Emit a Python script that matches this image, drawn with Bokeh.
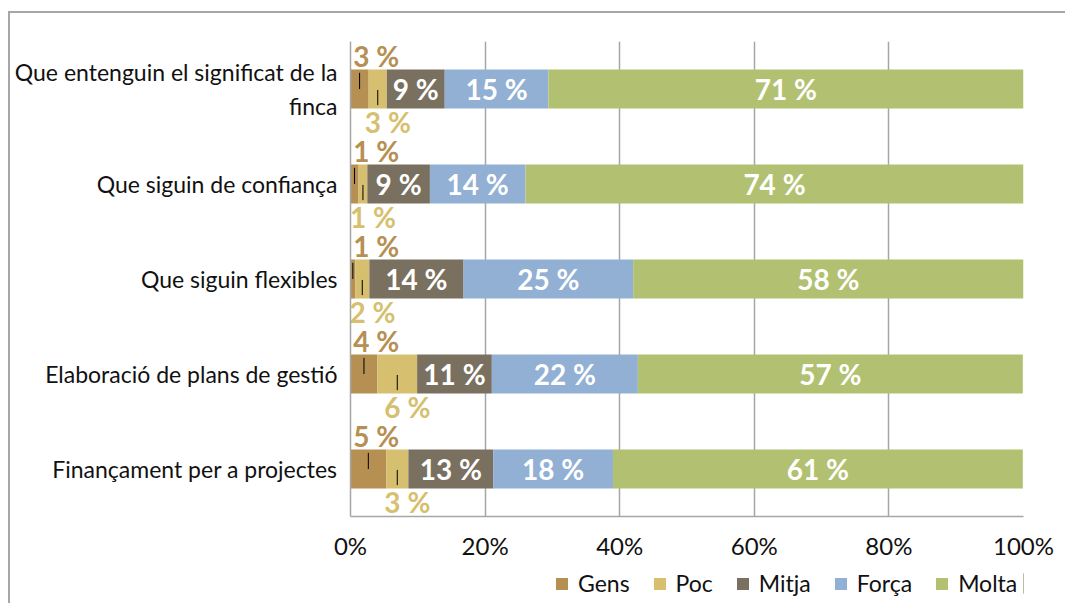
from bokeh.plotting import figure
from bokeh.layouts import column
from bokeh.models import (ColumnDataSource, FactorRange, Range1d, FixedTicker,
                          Legend, LegendItem)
from bokeh.transform import dodge
from bokeh.embed import file_html
from bokeh.resources import INLINE
from bokeh.core.properties import value

categories = ["Que entenguin el significat de la\nfinca",
              "Que siguin de confiança",
              "Que siguin flexibles",
              "Elaboració de plans de gestió",
              "Finançament per a projectes"]
series = ["Gens", "Poc", "Mitja", "Força", "Molta"]
gens = [2.7, 1.2, 0.7, 4.0, 5.3]
poc = [2.7, 1.3, 2.1, 5.9, 3.3]
mitja = [8.6, 9.3, 14.0, 11.1, 12.6]
forca = [15.4, 14.2, 25.2, 21.7, 17.8]
molta = [70.6, 74.0, 58.0, 57.2, 60.9]
colors = ["#b68f52", "#d6bf6e", "#7a7060", "#92afd4", "#b2c171"]
tick_values = [0, 20, 40, 60, 80, 100]
tick_labels = ["0%", "20%", "40%", "60%", "80%", "100%"]

FONT = value("Lato")
FONT_NAME = "Lato"
W = 1055

data = {"cat": categories, "Gens": gens, "Poc": poc, "Mitja": mitja,
        "Força": forca, "Molta": molta}
source = ColumnDataSource(data)

p = figure(width=W, height=550, output_backend="svg", toolbar_location=None,
           y_range=FactorRange(factors=list(reversed(categories))),
           x_range=Range1d(0, 100),
           min_border_left=340, min_border_right=42, min_border_top=28,
           min_border_bottom=47)
p.outline_line_color = None

renderers = p.hbar_stack(series, y="cat", height=0.41, color=colors,
                         line_color=None, source=source)

# cumulative positions
vals = [gens, poc, mitja, forca, molta]
starts = []
acc = [0.0] * len(categories)
for v in vals:
    starts.append(list(acc))
    acc = [a + b for a, b in zip(acc, v)]
mids = [[s + w / 2 for s, w in zip(st, v)] for st, v in zip(starts, vals)]

# inner labels (Mitja, Força, Molta)
for k in (2, 3, 4):
    src = ColumnDataSource({"x": mids[k], "cat": categories,
                            "t": [f"{round(v)} %" for v in vals[k]]})
    p.text(x="x", y="cat", text="t", source=src, text_color="white",
           text_font=FONT, text_font_style="bold", text_font_size="28px",
           text_align="center", text_baseline="middle")

# Gens labels above, Poc labels below
gsrc = ColumnDataSource({"x": [0.4] * len(categories), "cat": categories,
                         "t": [f"{round(v)} %" for v in gens],
                         "lx": mids[0]})
p.text(x="x", y=dodge("cat", 0.35, range=p.y_range), text="t", source=gsrc,
       text_color=colors[0], text_font=FONT, text_font_style="bold",
       text_font_size="28px", text_align="left", text_baseline="middle")
psrc = ColumnDataSource({"x": [m + 1.5 for m in mids[1]], "cat": categories,
                         "t": [f"{round(v)} %" for v in poc],
                         "lx": mids[1]})
p.text(x="x", y=dodge("cat", -0.35, range=p.y_range), text="t", source=psrc,
       text_color=colors[1], text_font=FONT, text_font_style="bold",
       text_font_size="28px", text_align="center", text_baseline="middle")

# leader lines
p.segment(x0="lx", x1="lx", y0=dodge("cat", 0.17, range=p.y_range),
          y1=dodge("cat", 0.0, range=p.y_range), source=gsrc,
          line_color="black", line_width=1)
p.segment(x0="lx", x1="lx", y0=dodge("cat", -0.01, range=p.y_range),
          y1=dodge("cat", -0.17, range=p.y_range), source=psrc,
          line_color="black", line_width=1)

# axes & grid
ticker = FixedTicker(ticks=tick_values)
p.xaxis.ticker = ticker
p.xgrid.ticker = ticker
p.xaxis.major_label_overrides = dict(zip(tick_values, tick_labels))
p.xgrid.grid_line_color = "#a6a6a6"
p.xgrid.grid_line_width = 1.5
p.ygrid.grid_line_color = None
for ax in (p.xaxis, p.yaxis):
    ax.axis_line_color = "#a6a6a6"
    ax.axis_line_width = 1.5
    ax.major_tick_line_color = None
    ax.minor_tick_line_color = None
    ax.major_label_text_font = FONT_NAME
    ax.major_label_text_color = "#111111"
p.xaxis.major_label_text_font_size = "24px"
p.yaxis.major_label_text_font_size = "23px"
p.xaxis.major_label_standoff = 8
p.yaxis.major_label_standoff = 7

# legend in its own strip below the chart (its frame lines up with the chart's)
lf = figure(width=W, height=40, output_backend="svg", toolbar_location=None,
            x_range=Range1d(0, 1), y_range=Range1d(0, 1),
            x_axis_type=None, y_axis_type=None,
            min_border_left=340, min_border_right=42, min_border_top=0,
            min_border_bottom=0)
lf.outline_line_color = None
lf.xgrid.grid_line_color = None
lf.ygrid.grid_line_color = None
lrs = [lf.hbar(y=[0.5], left=[5], right=[6], height=0.5, color=c, line_color=None)
       for c in colors]
legend = Legend(items=[LegendItem(label=s, renderers=[r]) for s, r in zip(series, lrs)],
                location=(204, 6), orientation="horizontal",
                glyph_width=15, glyph_height=15, label_standoff=9, spacing=22,
                padding=0, margin=0, border_line_color=None,
                background_fill_alpha=0, label_text_font=FONT_NAME,
                label_text_font_size="23px", label_text_color="#111111")
lf.add_layout(legend)

layout = column(p, lf, spacing=0)
layout.styles = {"border-top": "2px solid #a6a6a6", "border-left": "2px solid #a6a6a6",
                 "margin-top": "11px", "margin-left": "8px"}

open("out.html", "w").write(file_html(layout, INLINE))
